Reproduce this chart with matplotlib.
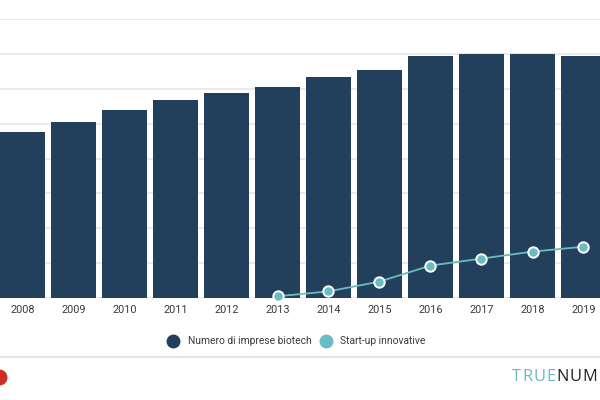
import matplotlib
matplotlib.use('Agg')
import matplotlib.pyplot as plt
import numpy as np
from matplotlib.lines import Line2D

years = ['2008', '2009', '2010', '2011', '2012', '2013', '2014', '2015',
         '2016', '2017', '2018', '2019']
biotech = [477, 505, 539, 567, 587, 605, 633, 653, 693, 700, 700, 695]
startup_years = ['2013', '2014', '2015', '2016', '2017', '2018', '2019']
startups = [5, 19, 47, 93, 113, 133, 147]
legend_labels = ['Numero di imprese biotech', 'Start-up innovative']
brand = [('TRUE', '#6bbbc4'), ('NUM', '#222222')]

BAR = '#22405b'
TEAL = '#6bbbc4'
GRID = '#e4e4e4'
TXT = '#3a3a3a'

plt.rcParams['font.family'] = ['Roboto', 'DejaVu Sans']

fig = plt.figure(figsize=(6, 4), dpi=100)
ax = fig.add_axes([0, 102 / 400, 1, (298 - 19) / 400])

x = np.arange(len(years))
ax.bar(x, biotech, width=0.894, color=BAR, zorder=2)
sx = [years.index(y) for y in startup_years]
ax.plot(sx, startups, color=TEAL, lw=1.3, marker='o', ms=7.5, mfc=TEAL,
        mec='white', mew=1.4, zorder=3, clip_on=False)

ax.set_xlim(-22.5 / 51, -22.5 / 51 + 600 / 51)
ax.set_ylim(0, 800)
ax.set_yticks(range(0, 801, 100))
ax.yaxis.grid(True, color=GRID, lw=1.1, zorder=0)
ax.set_axisbelow(True)
ax.tick_params(axis='y', length=0, labelleft=False)
ax.set_xticks(x)
ax.set_xticklabels(years, fontsize=7.8, color=TXT)
ax.tick_params(axis='x', length=0, pad=5)
for s in ax.spines.values():
    s.set_visible(False)

# legend
ly = (400 - 340.7) / 400
fig.add_artist(Line2D([173 / 600], [ly], marker='o', ms=9, color=BAR,
                      transform=fig.transFigure, ls=''))
fig.text(188 / 600, ly, legend_labels[0], fontsize=7.4, color=TXT, va='center')
fig.add_artist(Line2D([326 / 600], [ly], marker='o', ms=9, color=TEAL,
                      transform=fig.transFigure, ls=''))
fig.text(340 / 600, ly, legend_labels[1], fontsize=7.4, color=TXT, va='center')

# footer
fig.add_artist(Line2D([0, 1], [0.108, 0.108], color=GRID, lw=1.5,
                      transform=fig.transFigure))
fig.add_artist(Line2D([-1.5 / 600], [(400 - 376.5) / 400], marker='o', ms=10.5,
                      color='#cf2e24', transform=fig.transFigure, ls=''))

renderer = fig.canvas.get_renderer()
by = (400 - 377.3) / 400
xpos = 512
for word, col in brand:
    for ch in word:
        t = fig.text(xpos / 600, by, ch, fontsize=11.8, color=col,
                     va='center', family=['Open Sans', 'DejaVu Sans'])
        bb = t.get_window_extent(renderer)
        xpos = bb.x1 + 1.0

fig.savefig('out.png', dpi=100)
